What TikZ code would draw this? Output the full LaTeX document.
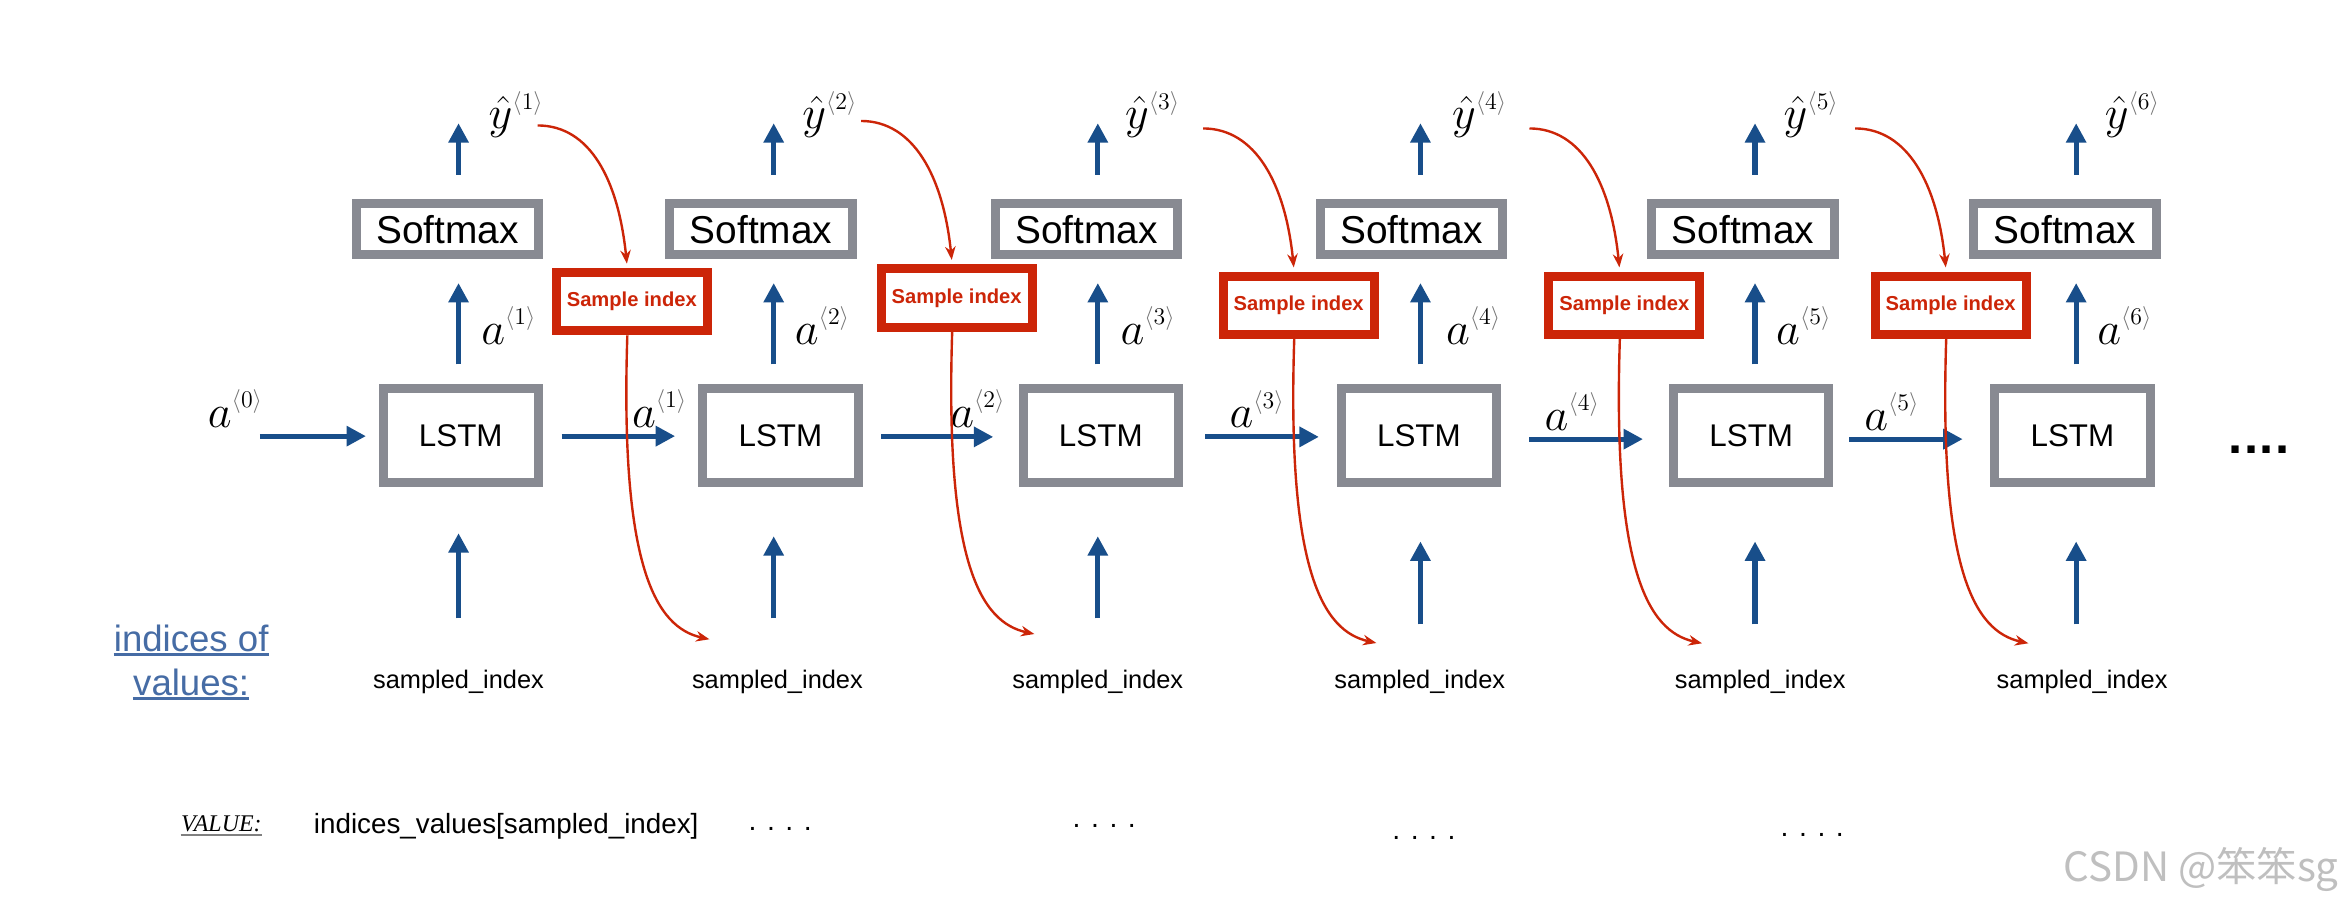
\RequirePackage{fix-cm}
\documentclass[tikz,border=0pt]{standalone}
\usepackage{fontspec}
\newfontfamily\hv{Liberation Sans}
\newfontfamily\tm{Liberation Serif}
\newfontfamily\cjk{Noto Sans CJK SC}
\usetikzlibrary{arrows.meta,calc}
\definecolor{boxgray}{RGB}{136,138,146}
\definecolor{sred}{RGB}{204,37,8}
\definecolor{ablue}{RGB}{24,78,138}
\definecolor{lblue}{RGB}{70,108,165}
\newcommand\supl[1]{\raisebox{0.42em}{\fontsize{16}{16}\selectfont\textcolor{black!55}{$\langle$}$#1$\textcolor{black!55}{$\rangle$}}}
\begin{document}
\begin{tikzpicture}[x=1pt,y=-1pt,
  softbox/.style={draw=boxgray, line width=6pt, minimum width=122pt, minimum height=34pt, inner sep=0pt, font=\hv\fontsize{26}{26}\selectfont},
  lstmbox/.style={draw=boxgray, line width=6pt, minimum width=104pt, minimum height=63pt, inner sep=0pt, font=\hv\fontsize{21}{21}\selectfont},
  sampbox/.style={draw=sred, line width=6pt, minimum width=101pt, minimum height=39pt, inner sep=0pt, text=sred, font=\hv\bfseries\fontsize{13.5}{13.5}\selectfont},
  barrow/.style={draw=ablue, line width=3.5pt, -{Triangle[length=13pt,width=13pt]}},
  rarrow/.style={draw=sred, line width=1.6pt, -{Stealth[length=9pt,width=7pt]}},
  mlab/.style={anchor=base west, inner sep=0pt, font=\fontsize{31}{31}\selectfont},
  idx/.style={anchor=base, inner sep=0pt, font=\hv\fontsize{17}{17}\selectfont},
  dotsty/.style={anchor=base west, inner sep=0pt, font=\hv\fontsize{19}{19}\selectfont},
  linklab/.style={anchor=base, inner sep=0pt, text=lblue, font=\hv\fontsize{24.5}{24.5}\selectfont}
]
\fill[white] (0,0) rectangle (1568,606.6);
\useasboundingbox (0,0) rectangle (1568,606.6);

% columns
\foreach \i/\lx/\sx/\ax/\yx/\vx/\inb/\intp in {
  1/308.5/299.5/307/328/323/414/354,
  2/522.5/509.5/518/538/533/414/356,
  3/737/727.5/735/754/751/414/356,
  4/950/945/951/973/969/418/359.5,
  5/1172.5/1167/1175/1195/1190/418/359.5,
  6/1387.5/1382.5/1390/1410/1405/418/359.5}{
  \node[lstmbox] (lstm\i) at (\lx,291.5) {LSTM};
  \node[softbox] (soft\i) at (\sx,153.5) {Softmax};
  \coordinate (in\i) at (\ax,\inb);
  \coordinate (out\i) at (\ax,82.5);
  \pgfmathsetmacro\sh{\intp-323}
  \draw[barrow, shorten >=\sh pt] (in\i) -- (in\i |- lstm\i.south);
  \draw[barrow, shorten <=13pt, shorten >=16pt] (lstm\i.north -| in\i) -- (soft\i.south -| in\i);
  \draw[barrow, shorten <=16.5pt] (soft\i.north -| in\i) -- (out\i);
  \node[mlab] (yh\i) at (\yx-1,86) {$\hat{y}$\supl{\i}};
  \node[mlab] (av\i) at (\vx-1,230.5) {$a$\supl{\i}};
}

% horizontal hidden-state labels
\foreach \k/\x/\y in {0/139/286, 1/423/286, 2/636/286, 3/823/286.5, 4/1034/288, 5/1248/288}{
  \node[mlab] (ah\k) at (\x,\y) {$a$\supl{\k}};
}

% horizontal arrows
\coordinate (h0) at (174,292);
\draw[barrow, shorten >=8.5pt] (h0) -- (h0 -| lstm1.west);
\foreach \i/\j/\yy/\sa/\sb in {1/2/292/12.5/15.5, 2/3/292.5/12.5/17, 3/4/292.5/15/12, 4/5/294/19/17.5, 5/6/294/10.5/18.5}{
  \coordinate (hy\i) at (0,\yy);
  \draw[barrow, shorten <=\sa pt, shorten >=\sb pt] (hy\i -| lstm\i.east) -- (hy\i -| lstm\j.west);
}

% sample index boxes and red curves
\foreach \i/\mx/\my/\sx/\sy/\ty in {1/423/202/360/84/428, 2/640.5/199.5/576.5/81/424.5, 3/869.5/204.5/805.5/86/430.5, 4/1087.5/204.5/1024/86/430.7, 5/1306/204.5/1242/86/430.7}{
  \node[sampbox] (samp\i) at (\mx,\my) {Sample index};
  \coordinate (rs\i) at (\sx,\sy);
  \coordinate (rt\i) at (\mx+52,\ty);
  \draw[rarrow, shorten >=3pt] (rs\i) .. controls +(35,0) and +(-6,-59) .. ($(samp\i.north)+(-3,0)$);
  \draw[rarrow] ($(samp\i.south)+(-3,0)$) .. controls +(-5,155) and +(-36,-8) .. (rt\i);
}

% sampled_index labels
\foreach \i/\tx in {1/307, 2/520.5, 3/735, 4/950.5, 5/1178.5, 6/1394}{
  \node[idx] (si\i) at (\tx,461) {sampled\_index};
}

% left labels
\node[linklab] (ind1) at (128,436) {indices of};
\node[linklab] (ind2) at (128,465.5) {values:};
\draw[lblue, line width=1.5pt] ($(ind1.base west)+(0,2.2)$) -- ($(ind1.base east)+(0,2.2)$);
\draw[lblue, line width=1.5pt] ($(ind2.base west)+(0,2.2)$) -- ($(ind2.base east)+(0,2.2)$);

\node[anchor=base west, inner sep=0pt, font=\tm\itshape\fontsize{16}{16}\selectfont] (val) at (121,557) {VALUE:};
\draw[gray, line width=0.8pt] ($(val.base west)+(0,2)$) -- ($(val.base east)+(0,2)$);

\node[anchor=base west, inner sep=0pt, font=\hv\fontsize{18.6}{18.6}\selectfont] (expr) at (210,558) {indices\_values[sampled\_index]};

\foreach \k/\x/\y in {1/501/556, 2/718/554, 3/932/562, 4/1192/560}{
  \node[dotsty] (d\k) at (\x,\y) {. . . .};
}

\node[anchor=base west, inner sep=0pt, font=\hv\bfseries\fontsize{34}{34}\selectfont] (more) at (1492,303.3) {.\kern1pt.\kern1pt.\kern1pt.};

\node[anchor=base east, inner sep=0pt, text=black!25, font=\cjk\fontsize{27}{27}\selectfont] (wm) at (1566,590) {CSDN @笨笨sg};
\end{tikzpicture}
\end{document}
